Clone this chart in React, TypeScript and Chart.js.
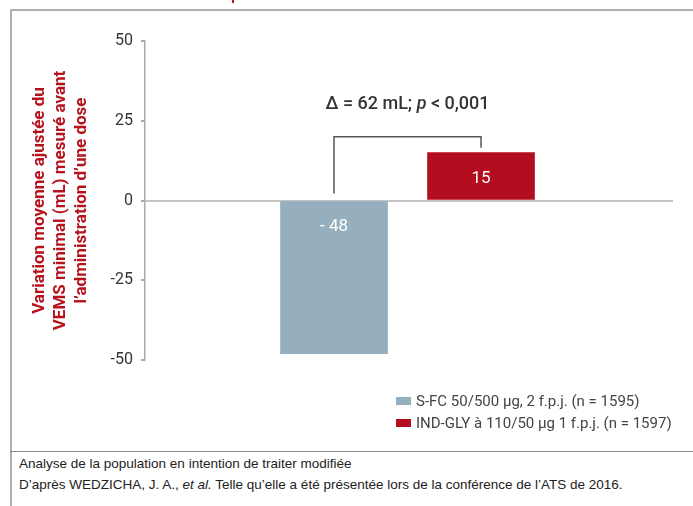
import React, { useEffect, useRef } from "react";
import { Chart, registerables } from "chart.js";

Chart.register(...registerables);

// ---- data ----
const categories = [
  "S-FC 50/500 µg, 2 f.p.j. (n = 1595)",
  "IND-GLY à 110/50 µg 1 f.p.j. (n = 1597)",
];
const positions = [1, 2];
const values = [-48, 15];
const barLabels = ["- 48", "15"];
const barColors = ["#95afbe", "#b30e1f"];
const yTickValues = [50, 25, 0, -25, -50];
const yTickLabels = ["50", "25", "0", "-25", "-50"];
const yTitle = [
  "Variation moyenne ajustée du",
  "VEMS minimal (mL) mesuré avant",
  "l’administration d’une dose",
];
const deltaParts = [
  { text: "Δ = 62 mL; ", italic: false },
  { text: "p", italic: true },
  { text: " < 0,001", italic: false },
];
const bracketTop = 20;
const bracketLeftBottom = 2.2;
const bracketRightBottom = 16.5;
const deltaTextValue = 30;
const footnotes = [
  "Analyse de la population en intention de traiter modifiée",
];

const overlayPlugin = {
  id: "overlay",
  afterDatasetsDraw(chart: any) {
    const { ctx } = chart;
    const xs = chart.scales.x;
    const ys = chart.scales.y;
    ctx.save();
    // bar value labels
    ctx.fillStyle = "#ffffff";
    ctx.font = "17px Roboto";
    ctx.textAlign = "center";
    ctx.textBaseline = "middle";
    values.forEach((v, i) => {
      const x = xs.getPixelForValue(positions[i]);
      const upper = ys.getPixelForValue(Math.max(v, 0));
      ctx.fillText(barLabels[i], x, upper + 26);
    });
    // bracket
    const x1 = xs.getPixelForValue(positions[0]);
    const x2 = xs.getPixelForValue(positions[1]);
    const yt = ys.getPixelForValue(bracketTop);
    ctx.strokeStyle = "#555555";
    ctx.lineWidth = 1.5;
    ctx.beginPath();
    ctx.moveTo(x1, ys.getPixelForValue(bracketLeftBottom));
    ctx.lineTo(x1, yt);
    ctx.lineTo(x2, yt);
    ctx.lineTo(x2, ys.getPixelForValue(bracketRightBottom));
    ctx.stroke();
    // delta text
    const fontN = "500 18px Roboto";
    const fontI = "italic 500 18px Roboto";
    let total = 0;
    const widths = deltaParts.map((p) => {
      ctx.font = p.italic ? fontI : fontN;
      const w = ctx.measureText(p.text).width;
      total += w;
      return w;
    });
    let cx = (x1 + x2) / 2 - total / 2;
    const ty = ys.getPixelForValue(deltaTextValue);
    ctx.textAlign = "left";
    ctx.fillStyle = "#333333";
    deltaParts.forEach((p, i) => {
      ctx.font = p.italic ? fontI : fontN;
      ctx.fillText(p.text, cx, ty);
      cx += widths[i];
    });
    ctx.restore();
  },
};

export default function App() {
  const ref = useRef<HTMLCanvasElement>(null);
  useEffect(() => {
    const chart = new Chart(ref.current!, {
      type: "bar",
      data: {
        datasets: categories.map((c, i) => ({
          label: c,
          data: [{ x: positions[i], y: values[i] }],
          backgroundColor: barColors[i],
          barThickness: 107,
          grouped: false,
        })),
      },
      options: {
        responsive: false,
        animation: false,
        events: [],
        layout: { padding: { left: 0, top: 41, right: 20, bottom: 82 } },
        plugins: { legend: { display: false }, tooltip: { enabled: false } },
        scales: {
          x: {
            type: "linear",
            display: false,
            offset: false,
            min: -0.2857,
            max: 3.306,
          },
          y: {
            min: -50,
            max: 50,
            afterFit: (s: any) => {
              s.width = 145;
            },
            afterBuildTicks: (s: any) => {
              s.ticks = yTickValues.map((v) => ({ value: v }));
            },
            ticks: {
              callback: (v: any) => yTickLabels[yTickValues.indexOf(v)],
              color: "#333333",
              font: { family: "Roboto", size: 16 },
              padding: 8,
            },
            grid: {
              color: (c: any) => (c.tick && c.tick.value === 0 ? "#c4c4c4" : "rgba(0,0,0,0)"),
              tickColor: "#aaaaaa",
              tickLength: 4,
              lineWidth: 2,
            },
            border: { display: true, color: "#aaaaaa", width: 1.5 },
            title: {
              display: true,
              text: yTitle,
              color: "#b5121b",
              font: { family: "Roboto", size: 17, weight: "bold", lineHeight: 1.24 },
              padding: { top: 29.5, bottom: 4 },
            },
          },
        },
      },
      plugins: [overlayPlugin],
    });
    return () => chart.destroy();
  }, []);

  return (
    <div style={{ position: "absolute", left: 0, top: 0, width: 693, height: 506, background: "#fff", overflow: "hidden" }}>
      <div style={{ position: "absolute", left: 232, top: 0, width: 2, height: 3, background: "#c0141c" }} />
      <div style={{ position: "absolute", left: 10, top: 9, width: 683, height: 2, background: "#b0b0b0" }} />
      <div style={{ position: "absolute", left: 10, top: 9, width: 2, height: 497, background: "#b0b0b0" }} />
      <canvas ref={ref} width={693} height={442} style={{ position: "absolute", left: 0, top: 0, width: 693, height: 442 }} />
      {categories.map((c, i) => (
        <div key={c} style={{ position: "absolute", left: 396, top: 390 + i * 22, height: 22, display: "flex", alignItems: "center", font: "15px Roboto", color: "#444", whiteSpace: "nowrap" }}>
          <span style={{ display: "inline-block", width: 15, height: 8, background: barColors[i], marginRight: 5 }} />
          {c}
        </div>
      ))}
      <div style={{ position: "absolute", left: 10, top: 451, width: 683, height: 1, background: "#888" }} />
      <div style={{ position: "absolute", left: 19, top: 453, font: "13.5px 'Liberation Sans', Arial, sans-serif", color: "#222", lineHeight: "21px", whiteSpace: "nowrap" }}>
        <div>{footnotes[0]}</div>
        <div>
          D’après WEDZICHA, J. A., <i>et al.</i> Telle qu’elle a été présentée lors de la conférence de l’ATS de 2016.
        </div>
      </div>
    </div>
  );
}
